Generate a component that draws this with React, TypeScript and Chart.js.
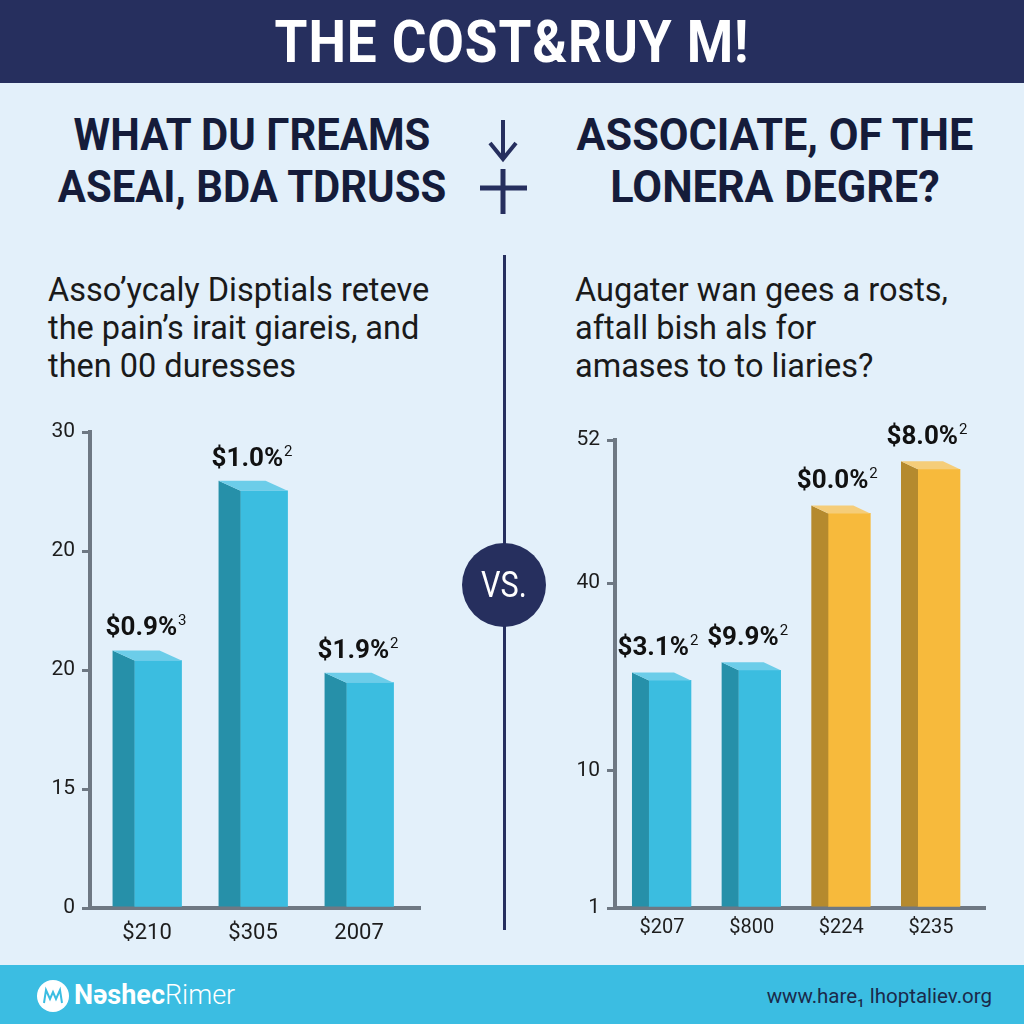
import React, { useEffect, useRef } from "react";
import { Chart, registerables } from "chart.js";

Chart.register(...registerables);

// ---------- data ----------
const titleText = "THE COST&RUY M!";
const leftHeading = ["WHAT DU ΓREAMS", "ASEAI, BDA TDRUSS"];
const rightHeading = ["ASSOCIATE, OF THE", "LONERA DEGRE?"];
const leftBody = ["Asso’ycaly Disptials reteve", "the pain’s irait giareis, and", "then 00 duresses"];
const rightBody = ["Augater wan gees a rosts,", "aftall bish als for", "amases to to liaries?"];

const leftCategories = ["$210", "$305", "2007"];
const leftValues = [15.6, 26.3, 14.2];
const leftValueLabels = ["$0.9%", "$1.0%", "$1.9%"];
const leftValueSups = ["3", "2", "2"];
const leftTickValues = [0, 7.5, 15, 22.5, 30];
const leftTickLabels = ["0", "15", "20", "20", "30"];

const rightCategories = ["$207", "$800", "$224", "$235"];
const rightValues = [25.8, 26.9, 44.0, 48.8];
const rightValueLabels = ["$3.1%", "$9.9%", "$0.0%", "$8.0%"];
const rightValueSups = ["2", "2", "2", "2"];
const rightTickValues = [1, 16, 36.4, 52];
const rightTickLabels = ["1", "10", "40", "52"];
const rightGroups = ["blue", "blue", "gold", "gold"];

const footerBrandBold = "Nəshec";
const footerBrandLight = "Rimer";
const footerUrl = "www.hare₁ lhoptaliev.org";

// ---------- styles ----------
const FONT = "Roboto, 'Noto Sans', 'DejaVu Sans', sans-serif";
const NAVY = "#262f5e";
const INK = "#151c3a";
const BG = "#e3f0fa";
const AXIS = "#6e7883";
const PALETTE: Record<string, { front: string; side: string; top: string }> = {
  blue: { front: "#3bbde0", side: "#2690a9", top: "#6ccde9" },
  gold: { front: "#f7ba3c", side: "#b58a2e", top: "#f5cd79" },
};

type PanelProps = {
  categories: string[];
  values: number[];
  valueLabels: string[];
  valueSups: string[];
  tickValues: number[];
  tickLabels: string[];
  groups: string[];
  yMin: number;
  yMax: number;
  xMin: number;
  xMax: number;
  barWidth: number;
  dx: number;
  dy: number;
  left: number;
  top: number;
  width: number;
  height: number;
  padding: { left: number; right: number; top: number; bottom: number };
  xLabelOffset: number;
  xLabelPad: number;
  xFontSize: number;
};

function BarPanel(p: PanelProps) {
  const ref = useRef<HTMLCanvasElement>(null);
  useEffect(() => {
    if (!ref.current) return;
    const plugin = {
      id: "bar3d",
      afterDatasetsDraw(chart: any) {
        const ctx = chart.ctx as CanvasRenderingContext2D;
        const meta = chart.getDatasetMeta(0);
        meta.data.forEach((el: any, i: number) => {
          const { x, y, base, width } = el.getProps(["x", "y", "base", "width"], true);
          const l = x - width / 2;
          const r = x + width / 2;
          const col = PALETTE[p.groups[i]];
          ctx.save();
          // side face
          ctx.fillStyle = col.side;
          ctx.beginPath();
          ctx.moveTo(l, y);
          ctx.lineTo(l + p.dx, y + p.dy);
          ctx.lineTo(l + p.dx, base);
          ctx.lineTo(l, base);
          ctx.closePath();
          ctx.fill();
          // top face
          ctx.fillStyle = col.top;
          ctx.beginPath();
          ctx.moveTo(l, y);
          ctx.lineTo(r, y);
          ctx.lineTo(r + p.dx, y + p.dy);
          ctx.lineTo(l + p.dx, y + p.dy);
          ctx.closePath();
          ctx.fill();
          // value label
          const main = p.valueLabels[i];
          const sup = p.valueSups[i];
          ctx.font = `bold 26px ${FONT}`;
          const wm = ctx.measureText(main).width;
          ctx.font = `15px ${FONT}`;
          const ws = ctx.measureText(sup).width;
          const cx = x - 12;
          const by = y - 25;
          const sx = cx - (wm + ws + 1) / 2;
          ctx.fillStyle = "#111";
          ctx.textAlign = "left";
          ctx.textBaseline = "alphabetic";
          ctx.font = `bold 26px ${FONT}`;
          ctx.fillText(main, sx, by);
          ctx.font = `15px ${FONT}`;
          ctx.fillText(sup, sx + wm + 1, by - 10);
          ctx.restore();
        });
      },
    };
    const chart = new Chart(ref.current, {
      type: "bar",
      data: {
        datasets: [
          {
            data: p.values.map((v, i) => ({ x: i, y: v })) as any,
            backgroundColor: p.groups.map((g) => PALETTE[g].front),
            borderWidth: 0,
            barThickness: p.barWidth,
            base: p.yMin,
          } as any,
        ],
      },
      options: {
        animation: false,
        responsive: false,
        maintainAspectRatio: false,
        layout: { padding: p.padding },
        plugins: { legend: { display: false }, tooltip: { enabled: false } },
        scales: {
          x: {
            type: "linear",
            offset: false,
            min: p.xMin,
            max: p.xMax,
            afterBuildTicks: (s: any) => {
              s.ticks = p.categories.map((_, i) => ({ value: i }));
            },
            afterFit: (s: any) => {
              s.height = 50;
            },
            ticks: {
              autoSkip: false,
              callback: (v: any) => p.categories[Math.round(Number(v))] ?? "",
              labelOffset: p.xLabelOffset,
              padding: p.xLabelPad,
              color: "#1d1d1d",
              font: { family: FONT, size: p.xFontSize },
              maxRotation: 0,
            },
            grid: { display: false, drawTicks: false, offset: false },
            border: { display: true, color: AXIS, width: 4 },
          },
          y: {
            min: p.yMin,
            max: p.yMax,
            afterBuildTicks: (s: any) => {
              s.ticks = p.tickValues.map((v) => ({ value: v }));
            },
            afterFit: (s: any) => {
              s.width = 50;
            },
            ticks: {
              autoSkip: false,
              callback: (v: any) => {
                const idx = p.tickValues.indexOf(Number(v));
                return idx >= 0 ? p.tickLabels[idx] : "";
              },
              padding: 7,
              color: "#1d1d1d",
              font: { family: FONT, size: 21 },
            },
            grid: { drawOnChartArea: false, drawTicks: true, tickLength: 8, color: AXIS, lineWidth: 3 },
            border: { display: true, color: AXIS, width: 4 },
          },
        },
      } as any,
      plugins: [plugin as any],
    });
    return () => chart.destroy();
  }, []);
  return (
    <canvas
      ref={ref}
      width={p.width}
      height={p.height}
      style={{ position: "absolute", left: p.left, top: p.top, width: p.width, height: p.height }}
    />
  );
}

const abs = (s: React.CSSProperties): React.CSSProperties => ({ position: "absolute", ...s });

export default function App() {
  return (
    <div
      style={abs({
        left: 0,
        top: 0,
        width: 1024,
        height: 1024,
        background: BG,
        overflow: "hidden",
        fontFamily: FONT,
      })}
    >
      {/* header band */}
      <div style={abs({ left: 0, top: 0, width: 1024, height: 83, background: NAVY })} />
      <div
        style={abs({
          left: 0,
          top: 12,
          width: 1024,
          textAlign: "center",
          color: "#fff",
          fontWeight: 700,
          fontSize: 59,
          lineHeight: "59px",
          letterSpacing: 1,
          transform: "scaleX(0.9)",
        })}
      >
        {titleText}
      </div>

      {/* headings */}
      <div
        style={abs({
          left: 0,
          top: 109,
          width: 504,
          textAlign: "center",
          color: INK,
          fontWeight: 700,
          fontSize: 45,
          lineHeight: "52px",
          transform: "scaleX(0.93)",
        })}
      >
        {leftHeading[0]}
        <br />
        {leftHeading[1]}
      </div>
      <div
        style={abs({
          left: 524,
          top: 109,
          width: 502,
          textAlign: "center",
          color: INK,
          fontWeight: 700,
          fontSize: 45,
          lineHeight: "52px",
          transform: "scaleX(0.96)",
        })}
      >
        {rightHeading[0]}
        <br />
        {rightHeading[1]}
      </div>

      {/* arrow and plus */}
      <svg style={abs({ left: 470, top: 110, width: 70, height: 110 })} width={70} height={110}>
        <line x1={33} y1={10} x2={33} y2={48} stroke={NAVY} strokeWidth={4} />
        <polyline points="20,33 33,49 46,33" fill="none" stroke={NAVY} strokeWidth={4} />
        <line x1={10} y1={78} x2={57} y2={78} stroke={NAVY} strokeWidth={5} />
        <line x1={33} y1={59} x2={33} y2={104} stroke={NAVY} strokeWidth={5} />
      </svg>

      {/* body texts */}
      <div style={abs({ left: 48, top: 271, color: "#1a1a1a", fontSize: 32.5, lineHeight: "38px", whiteSpace: "nowrap" })}>
        {leftBody.map((t, i) => (
          <div key={i}>{t}</div>
        ))}
      </div>
      <div style={abs({ left: 575, top: 271, color: "#1a1a1a", fontSize: 32.5, lineHeight: "38px", whiteSpace: "nowrap" })}>
        {rightBody.map((t, i) => (
          <div key={i}>{t}</div>
        ))}
      </div>

      {/* divider */}
      <div style={abs({ left: 503, top: 255, width: 3, height: 675, background: NAVY })} />

      {/* charts */}
      <BarPanel
        categories={leftCategories}
        values={leftValues}
        valueLabels={leftValueLabels}
        valueSups={leftValueSups}
        tickValues={leftTickValues}
        tickLabels={leftTickLabels}
        groups={leftCategories.map(() => "blue")}
        yMin={0}
        yMax={30}
        xMin={-0.642}
        xMax={2.471}
        barWidth={47}
        dx={-22}
        dy={-10}
        left={0}
        top={400}
        width={480}
        height={580}
        padding={{ left: 40, right: 60, top: 32, bottom: 22 }}
        xLabelOffset={-11}
        xLabelPad={12}
        xFontSize={22}
      />
      <BarPanel
        categories={rightCategories}
        values={rightValues}
        valueLabels={rightValueLabels}
        valueSups={rightValueSups}
        tickValues={rightTickValues}
        tickLabels={rightTickLabels}
        groups={rightGroups}
        yMin={1}
        yMax={52}
        xMin={-0.613}
        xMax={3.513}
        barWidth={42}
        dx={-17}
        dy={-8}
        left={520}
        top={400}
        width={504}
        height={580}
        padding={{ left: 45, right: 39, top: 40, bottom: 22 }}
        xLabelOffset={-8}
        xLabelPad={8}
        xFontSize={20}
      />

      {/* VS circle */}
      <div
        style={abs({
          left: 462,
          top: 543,
          width: 84,
          height: 84,
          borderRadius: "50%",
          background: NAVY,
          color: "#fff",
          fontSize: 36,
          lineHeight: "84px",
          textAlign: "center",
        })}
      >
        <span style={{ display: "inline-block", transform: "scaleX(0.85)" }}>VS.</span>
      </div>

      {/* footer */}
      <div style={abs({ left: 0, top: 965, width: 1024, height: 59, background: "#3bbde2" })} />
      <svg style={abs({ left: 36, top: 979, width: 34, height: 34 })} width={34} height={34}>
        <circle cx={17} cy={17} r={16} fill="#fff" />
        <path d="M8 24 L10 11 L14 20 L17 13 L20 20 L24 11 L26 24" fill="none" stroke="#3bbde2" strokeWidth={2} />
      </svg>
      <div style={abs({ left: 74, top: 980, color: "#fff", fontSize: 27, lineHeight: "30px", whiteSpace: "nowrap" })}>
        <span style={{ fontWeight: 700 }}>{footerBrandBold}</span>
        <span style={{ fontWeight: 300 }}>{footerBrandLight}</span>
      </div>
      <div
        style={abs({
          left: 600,
          top: 981,
          width: 392,
          textAlign: "right",
          color: "#1a2a4a",
          fontSize: 20.5,
          lineHeight: "30px",
          whiteSpace: "nowrap",
        })}
      >
        {footerUrl}
      </div>
    </div>
  );
}
